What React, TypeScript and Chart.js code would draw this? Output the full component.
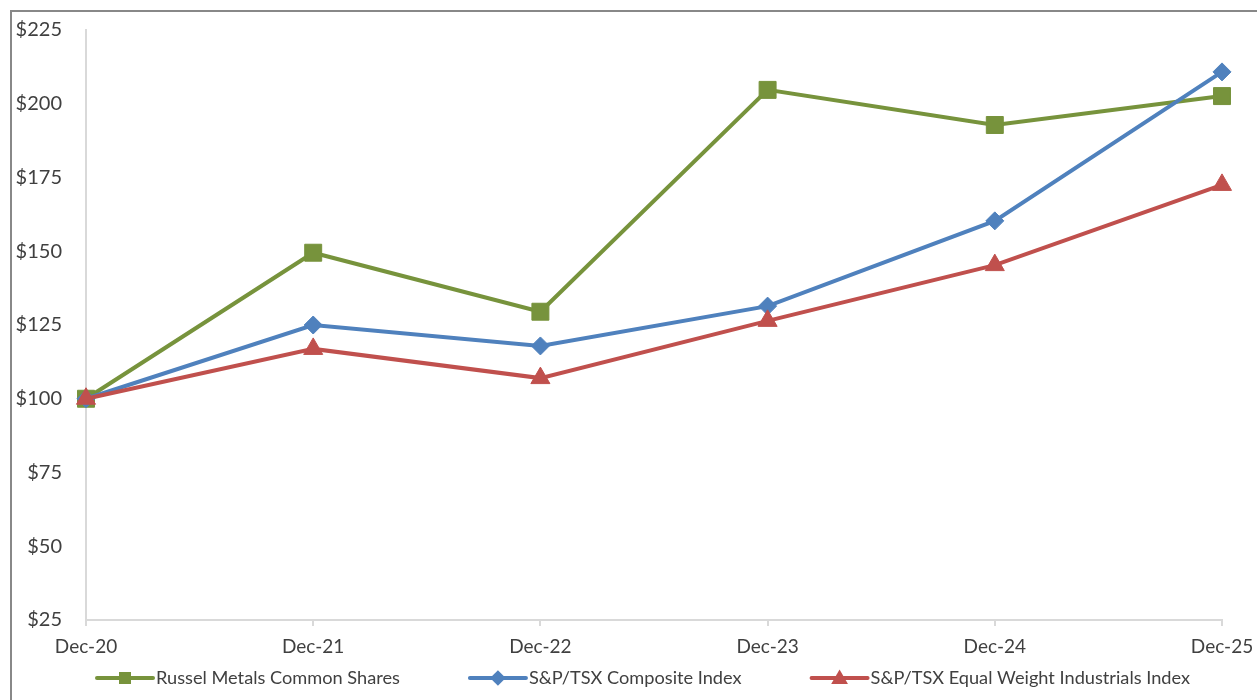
import React, { useEffect, useRef } from 'react';
import { Chart, registerables } from 'chart.js';

Chart.register(...registerables);

const categories = ['Dec-20', 'Dec-21', 'Dec-22', 'Dec-23', 'Dec-24', 'Dec-25'];
const russelMetals = [100, 149.5, 129.5, 204.7, 192.8, 202.6];
const spTsxComposite = [100, 125, 117.9, 131.4, 160.3, 210.8];
const spTsxIndustrials = [100, 116.9, 107, 126.4, 145.3, 172.5];
const seriesNames = ['Russel Metals Common Shares', 'S&P/TSX Composite Index', 'S&P/TSX Equal Weight Industrials Index'];
const seriesColors = ['#77933C', '#4F81BD', '#C0504D'];
const seriesMarkers = ['rect', 'rectRot', 'triangle'];
const yMin = 25;
const yMax = 225;
const yStep = 25;

const FONT = 'Lato, "Open Sans", sans-serif';
const TEXT = '#404040';

function drawMarker(ctx: CanvasRenderingContext2D, kind: string, x: number, y: number, s: number) {
  ctx.beginPath();
  if (kind === 'rect') {
    ctx.rect(x - s, y - s, 2 * s, 2 * s);
  } else if (kind === 'rectRot') {
    ctx.moveTo(x, y - s * 1.3);
    ctx.lineTo(x + s * 1.3, y);
    ctx.lineTo(x, y + s * 1.3);
    ctx.lineTo(x - s * 1.3, y);
    ctx.closePath();
  } else {
    ctx.moveTo(x, y - s * 1.4);
    ctx.lineTo(x + s * 1.4, y + s);
    ctx.lineTo(x - s * 1.4, y + s);
    ctx.closePath();
  }
  ctx.fill();
}

const legendPlugin = {
  id: 'customLegend',
  afterDraw(chart: any) {
    const ctx: CanvasRenderingContext2D = chart.ctx;
    ctx.save();
    ctx.font = `18.2px ${FONT}`;
    ctx.textBaseline = 'middle';
    ctx.textAlign = 'left';
    const lineLen = 56;
    const gapText = 3;
    const gapItem = 70;
    const y = 678;
    let x = 97;
    chart.data.datasets.forEach((ds: any, i: number) => {
      const color = seriesColors[i];
      ctx.strokeStyle = color;
      ctx.fillStyle = color;
      ctx.lineWidth = 4;
      ctx.lineCap = 'round';
      ctx.beginPath();
      ctx.moveTo(x, y);
      ctx.lineTo(x + lineLen, y);
      ctx.stroke();
      drawMarker(ctx, seriesMarkers[i], x + lineLen / 2, y, 6);
      ctx.fillStyle = TEXT;
      const tx = x + lineLen + gapText;
      ctx.fillText(ds.label, tx, y);
      x = tx + ctx.measureText(ds.label).width + gapItem;
    });
    ctx.restore();
  },
};

export default function App() {
  const ref = useRef<HTMLCanvasElement | null>(null);

  useEffect(() => {
    if (!ref.current) return;
    const data = [russelMetals, spTsxComposite, spTsxIndustrials];
    const radii = [12, 9, 11];
    const chart = new Chart(ref.current, {
      type: 'line',
      data: {
        labels: categories,
        datasets: data.map((d, i) => ({
          label: seriesNames[i],
          data: d,
          borderColor: seriesColors[i],
          backgroundColor: seriesColors[i],
          pointBackgroundColor: seriesColors[i],
          pointBorderColor: seriesColors[i],
          pointBorderWidth: 1,
          pointHoverRadius: radii[i],
          pointStyle: seriesMarkers[i] as any,
          pointRadius: radii[i],
          borderWidth: 4,
          tension: 0,
          clip: false as any,
          order: 2 - i,
        })),
      },
      options: {
        responsive: false,
        animation: false,
        devicePixelRatio: 1,
        layout: { autoPadding: false, padding: { top: 30, right: 35, left: 0, bottom: 40 } },
        plugins: {
          legend: { display: false },
          tooltip: { enabled: false },
        },
        scales: {
          x: {
            type: 'category',
            offset: false,
            grid: {
              display: true,
              drawOnChartArea: false,
              drawTicks: true,
              tickLength: 6,
              color: '#D9D9D9',
              lineWidth: 2,
            },
            border: { display: true, color: '#D9D9D9', width: 2 },
            ticks: {
              color: TEXT,
              font: { family: FONT, size: 19, lineHeight: 2 },
              padding: 2,
              maxRotation: 0,
              autoSkip: false,
            },
            afterFit: (scale: any) => {
              scale.height = 40;
            },
          },
          y: {
            min: yMin,
            max: yMax,
            grid: { display: false, drawTicks: true, tickLength: 20 },
            border: { display: true, color: '#D9D9D9', width: 2 },
            ticks: {
              stepSize: yStep,
              color: TEXT,
              font: { family: FONT, size: 20 },
              padding: 4,
              callback: (v: any) => '$' + v,
            },
            afterFit: (scale: any) => {
              scale.width = 86;
            },
          },
        },
      },
      plugins: [legendPlugin],
    });
    return () => chart.destroy();
  }, []);

  return (
    <div style={{ position: 'fixed', inset: 0, overflow: 'hidden', background: '#fff' }}>
      <div
        style={{
          position: 'absolute',
          left: 10,
          top: 10,
          width: 1400,
          height: 900,
          border: '2px solid #888888',
          boxSizing: 'border-box',
        }}
      />
      <canvas
        ref={ref}
        width={1257}
        height={700}
        style={{ position: 'absolute', left: 0, top: 0, width: 1257, height: 700 }}
      />
    </div>
  );
}
